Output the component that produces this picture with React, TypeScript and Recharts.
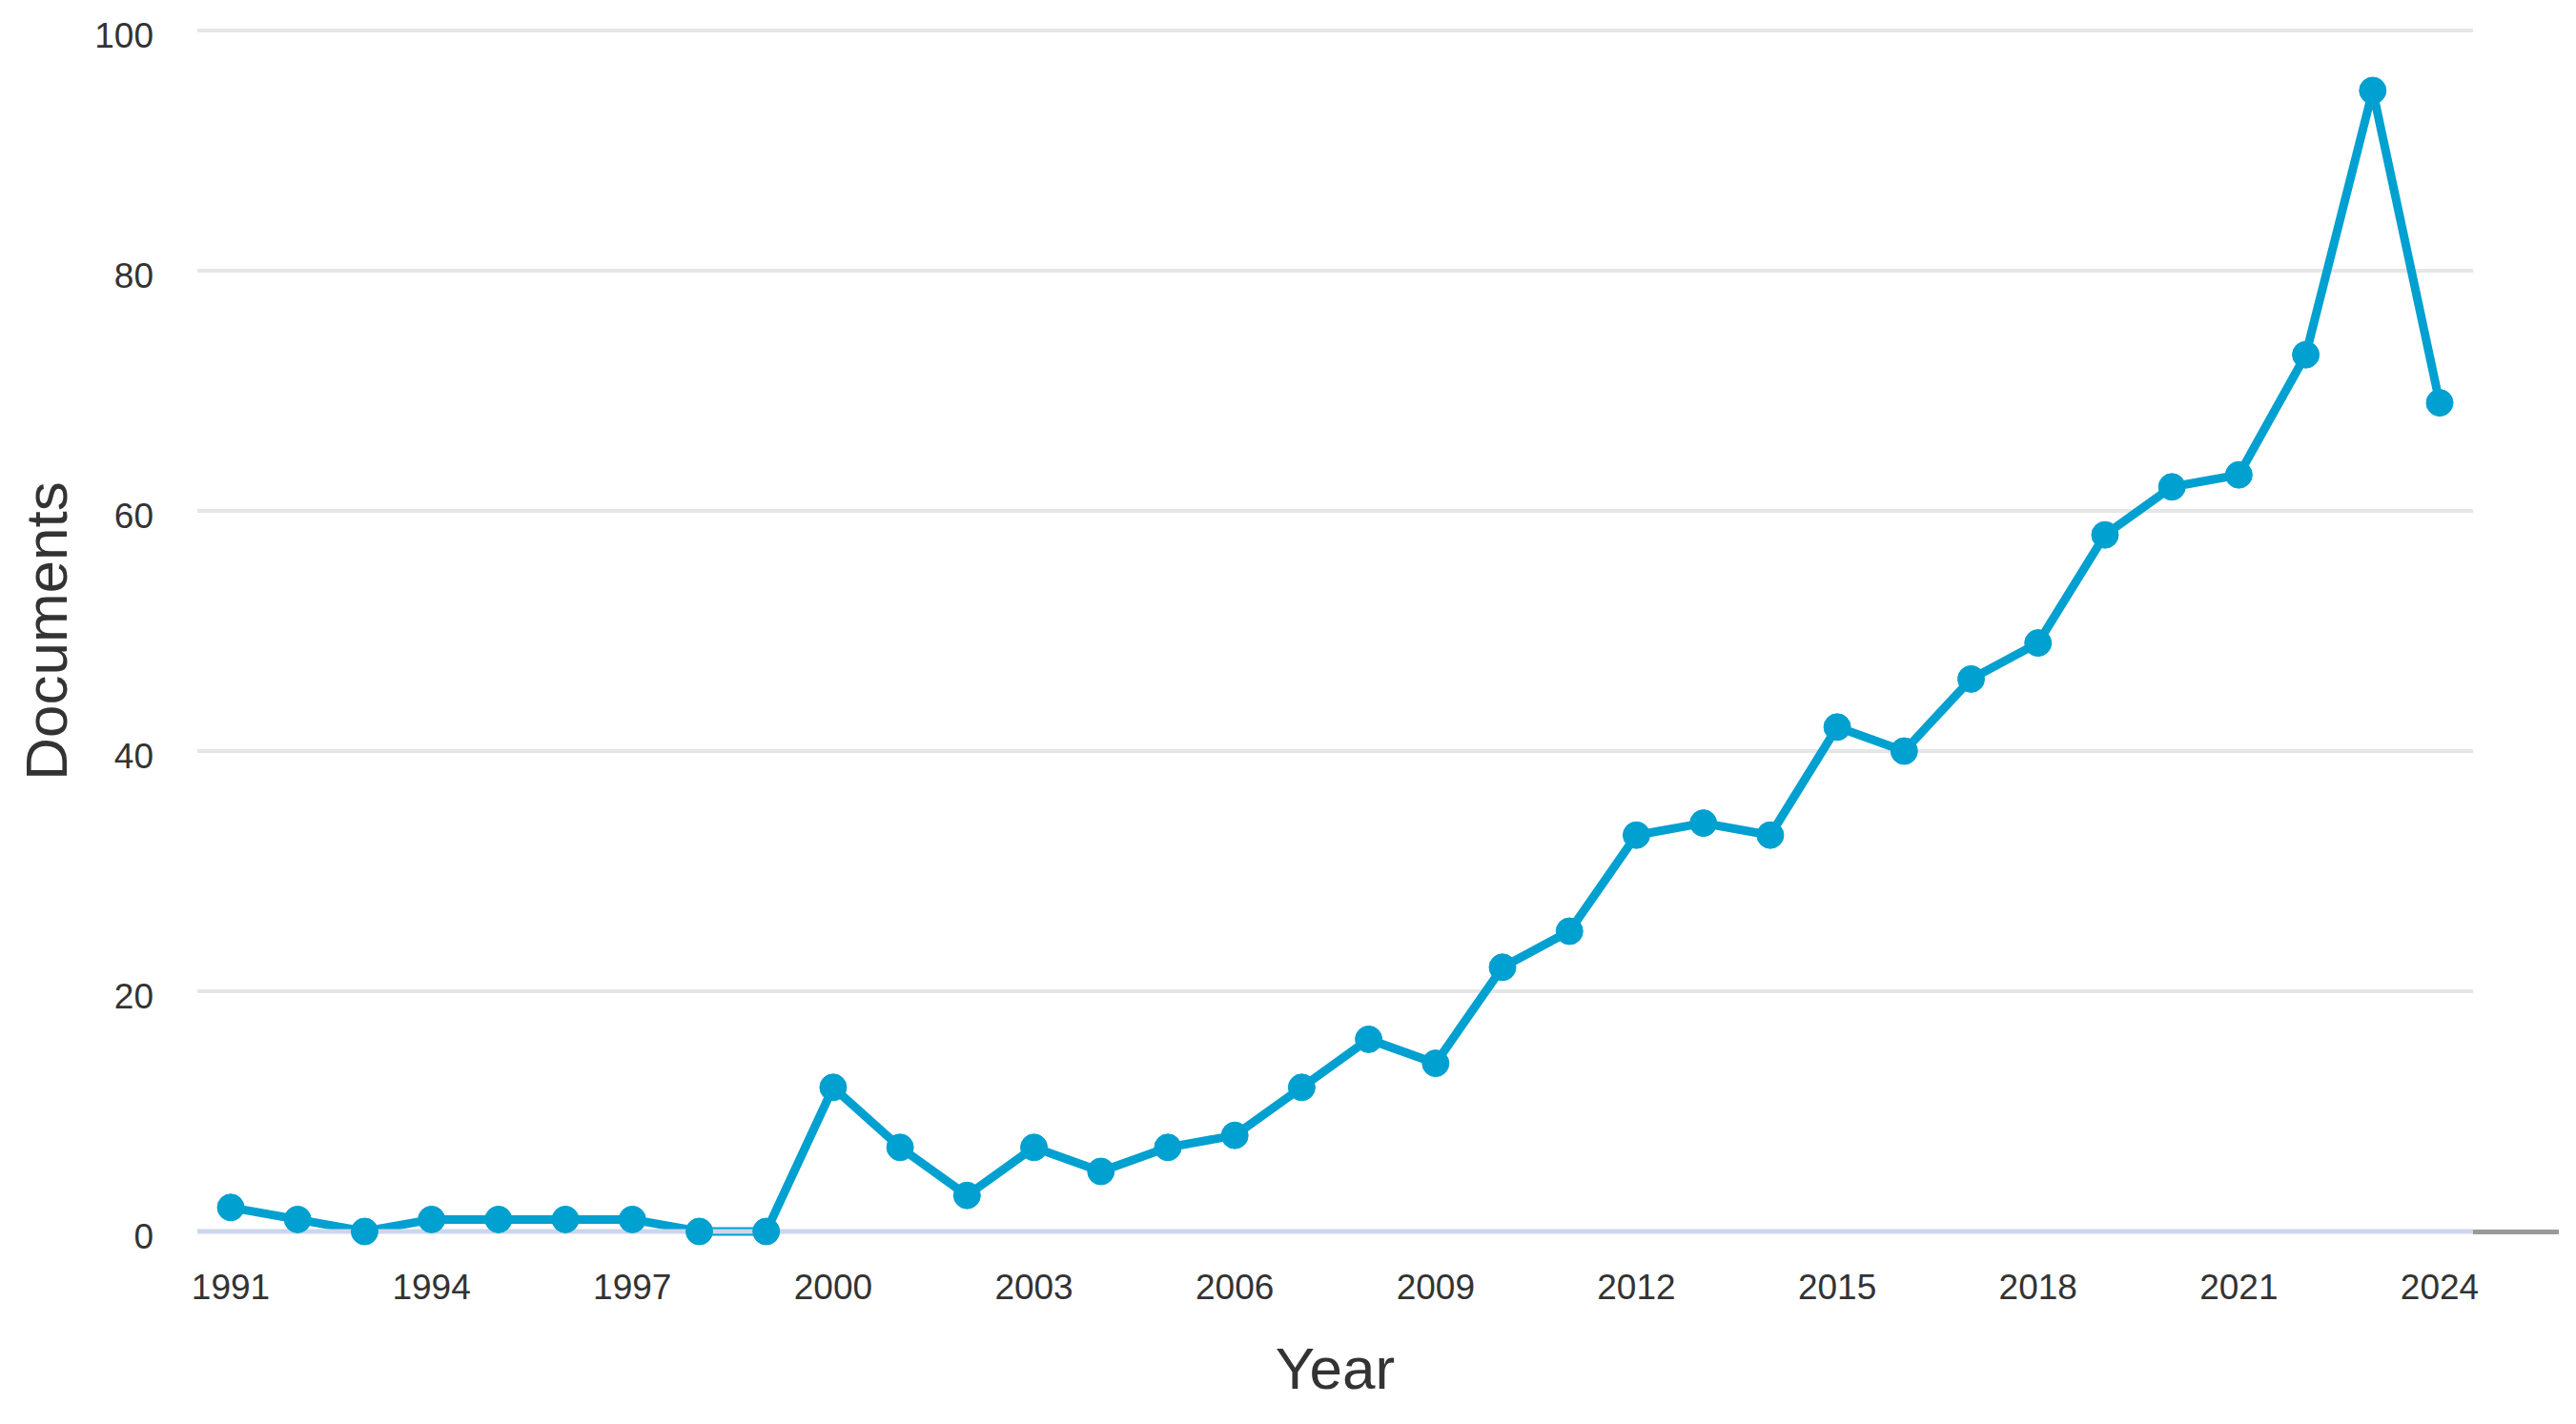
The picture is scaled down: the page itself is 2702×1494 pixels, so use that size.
import { LineChart, Line, XAxis, YAxis, CartesianGrid } from "recharts";

const years = [
  1991, 1992, 1993, 1994, 1995, 1996, 1997, 1998, 1999, 2000, 2001, 2002,
  2003, 2004, 2005, 2006, 2007, 2008, 2009, 2010, 2011, 2012, 2013, 2014,
  2015, 2016, 2017, 2018, 2019, 2020, 2021, 2022, 2023, 2024,
];

const documents = [
  2, 1, 0, 1, 1, 1, 1, 0, 0, 12, 7, 3, 7, 5, 7, 8, 12, 16, 14, 22, 25, 33, 34,
  33, 42, 40, 46, 49, 58, 62, 63, 73, 95, 69,
];

const yTicks = [0, 20, 40, 60, 80, 100];

const data = years.map((year, i) => ({ year: String(year), documents: documents[i] }));

const FONT = "'Liberation Sans', Arial, sans-serif";
const LINE_COLOR = "#00a0d0";

export default function App() {
  return (
    <div style={{ position: "absolute", top: 0, left: 0, width: 2702, height: 1494, background: "#fff" }}>
      <LineChart
        width={2702}
        height={1494}
        data={data}
        margin={{ top: 32, right: 108, left: 0, bottom: 0 }}
        style={{ fontFamily: FONT }}
      >
        <CartesianGrid vertical={false} stroke="#e6e6e6" strokeWidth={4} />
        <XAxis
          dataKey="year"
          interval={2}
          height={202}
          padding={{ left: 35, right: 35 }}
          tickLine={false}
          tickSize={0}
          tickMargin={45}
          axisLine={{ stroke: "#ccd6eb", strokeWidth: 5 }}
          tick={{ fill: "#333", fontSize: 37, fontFamily: FONT }}
          label={{
            value: "Year",
            position: "insideBottom",
            offset: 37,
            fill: "#333",
            fontSize: 62,
            fontFamily: FONT,
          }}
        />
        <YAxis
          domain={[0, 100]}
          ticks={yTicks}
          width={207}
          axisLine={false}
          tickLine={false}
          tickSize={0}
          tickMargin={46}
          tick={{ fill: "#333", fontSize: 37, fontFamily: FONT, dy: 5 }}
          label={{
            value: "Documents",
            angle: -90,
            position: "insideLeft",
            offset: 48,
            fill: "#333",
            fontSize: 62,
            fontFamily: FONT,
            style: { textAnchor: "middle" },
          }}
        />
        <Line
          type="linear"
          dataKey="documents"
          stroke={LINE_COLOR}
          strokeWidth={9}
          dot={{ r: 14, fill: LINE_COLOR, stroke: LINE_COLOR, strokeWidth: 1 }}
          activeDot={false}
          isAnimationActive={false}
        />
      </LineChart>
      {/* small grey stub to the right of the x axis line */}
      <div
        style={{
          position: "absolute",
          left: 2594,
          top: 1290,
          width: 90,
          height: 5,
          background: "#999",
        }}
      />
    </div>
  );
}
